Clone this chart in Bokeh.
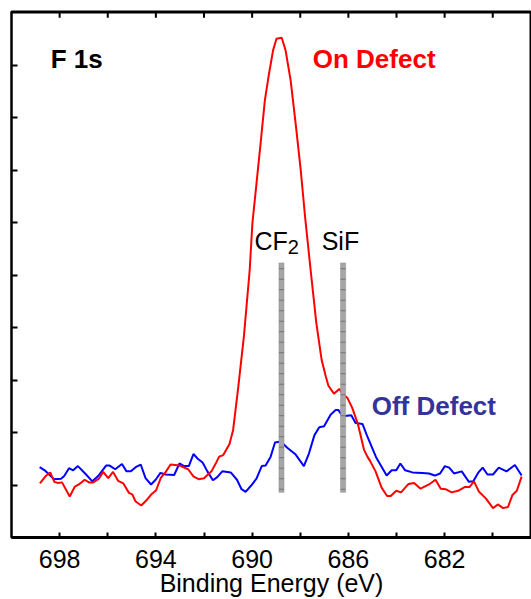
from bokeh.plotting import figure
from bokeh.models import Range1d, LinearAxis, FixedTicker, Label
from bokeh.embed import file_html
from bokeh.resources import INLINE

# ---- data (binding energy in eV, intensity in arbitrary units) ----
off_energy = [698.83, 698.62, 698.23, 697.94, 697.81, 697.61, 697.44, 697.24, 696.92, 696.64,
              696.40, 696.07, 695.92, 695.69, 695.41, 695.22, 695.04, 694.84, 694.63, 694.43,
              694.20, 694.01, 693.81, 693.59, 693.24, 693.02, 692.83, 692.63, 692.44, 692.26,
              692.06, 691.86, 691.63, 691.45, 691.24, 690.89, 690.63, 690.44, 690.27, 690.04,
              689.82, 689.60, 689.44, 689.23, 689.05, 688.81, 688.54, 688.19, 687.85, 687.64,
              687.41, 687.21, 687.01, 686.74, 686.53, 686.42, 686.24, 685.88, 685.70, 685.41,
              685.20, 684.85, 684.41, 684.20, 684.01, 683.84, 683.64, 683.34, 682.93, 682.65,
              682.41, 682.19, 681.99, 681.81, 681.61, 681.29, 680.99, 680.81, 680.61, 680.42,
              680.22, 679.99, 679.75, 679.43, 679.08, 678.80]
off_intensity = [1.34, 1.28, 1.11, 1.12, 1.17, 1.32, 1.28, 1.36, 1.21, 1.07,
                 1.17, 1.37, 1.37, 1.30, 1.40, 1.26, 1.26, 1.34, 1.39, 1.13,
                 1.01, 1.10, 1.23, 1.20, 1.19, 1.41, 1.36, 1.36, 1.59, 1.50,
                 1.43, 1.26, 1.09, 1.15, 1.26, 1.24, 1.10, 0.92, 0.87, 0.99,
                 1.12, 1.36, 1.37, 1.54, 1.81, 1.83, 1.71, 1.58, 1.36, 1.60,
                 1.95, 2.10, 2.12, 2.34, 2.43, 2.43, 2.31, 2.33, 2.18, 2.16,
                 1.91, 1.53, 1.18, 1.28, 1.28, 1.41, 1.28, 1.24, 1.23, 1.22,
                 1.18, 1.22, 1.36, 1.33, 1.22, 1.26, 1.06, 1.07, 1.23, 1.33,
                 1.20, 1.20, 1.33, 1.26, 1.38, 1.18]

on_energy = [698.82, 698.58, 698.39, 698.22, 698.08, 697.90, 697.58, 697.37, 697.20, 696.96,
             696.78, 696.60, 696.37, 696.19, 695.98, 695.78, 695.57, 695.35, 695.12, 694.98,
             694.85, 694.61, 694.37, 694.17, 693.99, 693.79, 693.59, 693.39, 693.01, 692.66,
             692.43, 692.22, 692.00, 691.69, 691.48, 691.37, 691.20, 690.94, 690.79, 690.68,
             690.58, 690.34, 690.10, 689.99, 689.82, 689.65, 689.47, 689.30, 689.13, 688.99,
             688.77, 688.61, 688.40, 688.19, 687.98, 687.80, 687.57, 687.33, 687.11, 686.94,
             686.83, 686.60, 686.38, 686.21, 686.04, 685.84, 685.61, 685.35, 685.21, 685.10,
             684.87, 684.62, 684.39, 684.24, 684.01, 683.81, 683.50, 683.27, 683.00, 682.65,
             682.38, 682.16, 681.96, 681.71, 681.44, 681.17, 680.97, 680.78, 680.57, 680.28,
             679.99, 679.79, 679.57, 679.37, 679.18, 679.00, 678.80]
on_intensity = [1.03, 1.17, 1.24, 1.06, 1.04, 1.05, 0.78, 0.97, 1.01, 1.10,
                1.05, 1.05, 1.12, 1.25, 1.13, 1.25, 1.08, 1.03, 0.85, 0.82,
                0.69, 0.61, 0.72, 0.83, 0.90, 1.14, 1.25, 1.39, 1.37, 1.30,
                1.16, 1.11, 1.13, 1.26, 1.44, 1.54, 1.57, 1.78, 2.05, 2.47,
                2.85, 3.84, 5.10, 5.98, 6.74, 7.50, 8.33, 8.83, 9.28, 9.50,
                9.52, 9.28, 8.71, 7.88, 7.00, 6.11, 5.10, 4.08, 3.38, 3.07,
                2.89, 2.74, 2.83, 2.72, 2.66, 2.47, 2.17, 1.67, 1.54, 1.46,
                1.26, 0.95, 0.79, 0.79, 0.89, 0.86, 1.02, 1.04, 0.93, 1.01,
                1.10, 0.93, 0.92, 0.86, 0.89, 0.96, 0.96, 1.07, 0.87, 0.74,
                0.56, 0.63, 0.56, 0.58, 0.81, 0.89, 1.16]

peak_names = ["CF2", "SiF"]
peak_positions = [688.78, 686.22]

x_major_ticks = [680, 682, 684, 686, 688, 690, 692, 694, 696, 698]
x_tick_labels = {680: "", 682: "682", 684: "", 686: "686", 688: "",
                 690: "690", 692: "", 694: "694", 696: "", 698: "698"}
y_ticks = [1, 2, 3, 4, 5, 6, 7, 8, 9]

FONT = "Liberation Sans"
X_START, X_END = 700.0, 678.39
Y_TOP = 10

p = figure(width=531, height=599, output_backend="svg", toolbar_location=None,
           x_range=Range1d(X_START, X_END), y_range=Range1d(0, 10.02),
           x_axis_location=None, y_axis_location=None,
           min_border_left=11, min_border_right=0, min_border_top=11, min_border_bottom=61)
p.title.visible = False
p.outline_line_color = "black"
p.outline_line_width = 2
p.xgrid.visible = False
p.ygrid.visible = False
p.background_fill_color = "white"
p.border_fill_color = "white"

# bottom axis with title
xb = LinearAxis(ticker=FixedTicker(ticks=x_major_ticks), axis_label="Binding Energy (eV)")
xb.major_label_overrides = x_tick_labels
xb.major_label_text_font = FONT
xb.major_label_text_font_size = "25px"
xb.major_label_text_color = "black"
xb.major_label_standoff = 12
xb.axis_label_text_font = FONT
xb.axis_label_text_font_size = "25px"
xb.axis_label_text_font_style = "normal"
xb.axis_label_text_color = "black"
xb.axis_label_standoff = -2
xb.major_tick_in = 5
xb.major_tick_out = 0
xb.major_tick_line_width = 2
xb.minor_tick_line_color = None
xb.axis_line_width = 3
p.add_layout(xb, "below")

# left axis
yl = LinearAxis(ticker=FixedTicker(ticks=y_ticks))
yl.major_label_text_font_size = "0px"
yl.major_label_standoff = 0
yl.major_tick_in = 6
yl.major_tick_out = 0
yl.major_tick_line_width = 2
yl.minor_tick_line_color = None
yl.axis_line_width = 2
p.add_layout(yl, "left")

# top frame line with inward ticks
p.line([X_START, X_END], [Y_TOP, Y_TOP], line_color="black", line_width=2)
p.segment(x0=x_major_ticks, y0=[Y_TOP] * len(x_major_ticks),
          x1=x_major_ticks, y1=[Y_TOP - 0.1] * len(x_major_ticks),
          line_color="black", line_width=2)

# curves
p.line(off_energy, off_intensity, line_color="#0000ff", line_width=2)
p.line(on_energy, on_intensity, line_color="#ff0000", line_width=2)

# reference bars
bar_half = 0.105
p.quad(left=[e + bar_half for e in peak_positions], right=[e - bar_half for e in peak_positions],
       bottom=0.86, top=5.23, fill_color="#a6a6a6", line_color="#8c8c8c", line_width=0.5,
       hatch_pattern="horizontal_line", hatch_color="#707070", hatch_scale=10.5, hatch_weight=1)

def lab(text, x, y, size, color="black", style="normal", align="left"):
    p.add_layout(Label(x=x, y=y, text=text, text_font=FONT, text_font_size=size,
                       text_color=color, text_font_style=style, text_align=align,
                       text_baseline="alphabetic"))

lab("F 1s", 698.37, 9.11, "26px", style="bold")
lab("On Defect", 687.48, 9.11, "26px", color="#ff0000", style="bold")
lab("Off Defect", 685.03, 2.51, "26px", color="#333399", style="bold")
lab("CF", 689.90, 5.65, "25px")
lab("2", 688.52, 5.53, "20px")
lab("SiF", 687.11, 5.65, "25px")

open("out.html", "w").write(file_html(p, INLINE))
